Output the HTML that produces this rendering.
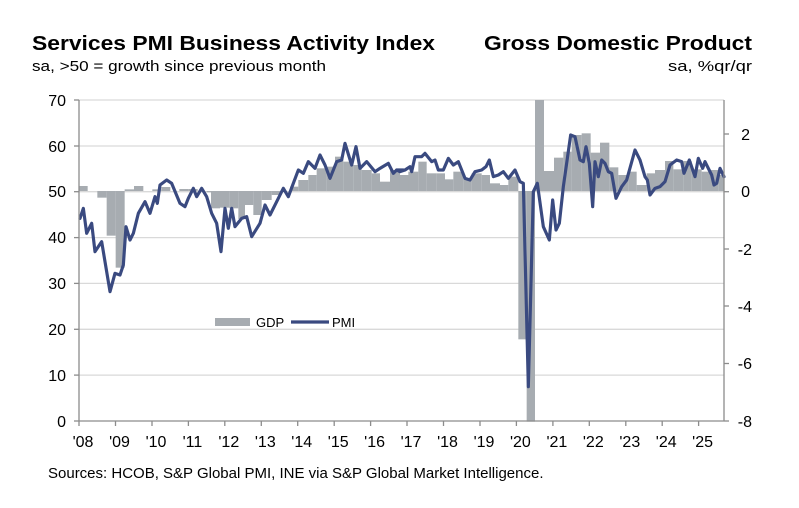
<!DOCTYPE html>
<html><head><meta charset="utf-8"><style>
html,body{margin:0;padding:0;background:#fff;}
svg{display:block;font-family:"Liberation Sans",Arial,sans-serif;}
</style></head><body>
<svg width="799" height="508" viewBox="0 0 799 508" xmlns="http://www.w3.org/2000/svg">
<rect width="799" height="508" fill="#fff"/>
<text x="32" y="50" font-size="20" font-weight="bold" textLength="403" lengthAdjust="spacingAndGlyphs">Services PMI Business Activity Index</text>
<text x="32" y="71" font-size="15" textLength="294" lengthAdjust="spacingAndGlyphs">sa, &gt;50 = growth since previous month</text>
<text x="752" y="50" font-size="20" font-weight="bold" text-anchor="end" textLength="268" lengthAdjust="spacingAndGlyphs">Gross Domestic Product</text>
<text x="752" y="71" font-size="15" text-anchor="end" textLength="84" lengthAdjust="spacingAndGlyphs">sa, %qr/qr</text>
<g stroke="#d9d9d9" stroke-width="1.3">
<line x1="79" x2="724" y1="100" y2="100"/><line x1="79" x2="724" y1="146" y2="146"/>
<line x1="79" x2="724" y1="191.7" y2="191.7"/><line x1="79" x2="724" y1="237.6" y2="237.6"/>
<line x1="79" x2="724" y1="283.4" y2="283.4"/><line x1="79" x2="724" y1="329.3" y2="329.3"/>
<line x1="79" x2="724" y1="375.1" y2="375.1"/>
</g>
<g transform="translate(60,90) scale(0.33333)" fill="#a7acb1">
<rect x="57" y="288" width="26" height="15"/>
<rect x="112" y="303" width="28" height="20"/>
<rect x="140" y="303" width="27" height="134"/>
<rect x="167" y="303" width="27" height="230"/>
<rect x="194" y="298" width="28" height="5"/>
<rect x="222" y="288" width="28" height="15"/>
<rect x="277" y="298" width="27" height="5"/>
<rect x="304" y="291" width="27" height="12"/>
<rect x="358" y="297" width="28" height="6"/>
<rect x="386" y="297" width="27" height="6"/>
<rect x="440" y="303" width="13" height="4"/>
<rect x="453" y="303" width="27" height="52"/>
<rect x="480" y="303" width="28" height="50"/>
<rect x="508" y="303" width="27" height="52"/>
<rect x="535" y="303" width="20" height="84"/>
<rect x="555" y="303" width="25" height="42"/>
<rect x="580" y="303" width="25" height="72"/>
<rect x="605" y="303" width="30" height="27"/>
<rect x="635" y="303" width="25" height="12"/>
<rect x="690" y="290" width="25" height="13"/>
<rect x="715" y="270" width="30" height="33"/>
<rect x="745" y="255" width="25" height="48"/>
<rect x="770" y="235" width="30" height="68"/>
<rect x="800" y="230" width="25" height="73"/>
<rect x="825" y="200" width="25" height="103"/>
<rect x="850" y="215" width="30" height="88"/>
<rect x="880" y="225" width="25" height="78"/>
<rect x="905" y="240" width="30" height="63"/>
<rect x="935" y="250" width="25" height="53"/>
<rect x="960" y="275" width="30" height="28"/>
<rect x="990" y="240" width="30" height="63"/>
<rect x="1020" y="255" width="30" height="48"/>
</g>
<g transform="translate(400,90) scale(0.33333)" fill="#a7acb1">
<rect x="0" y="255" width="25" height="48"/>
<rect x="25" y="245" width="30" height="58"/>
<rect x="55" y="215" width="25" height="88"/>
<rect x="80" y="250" width="30" height="53"/>
<rect x="110" y="250" width="25" height="53"/>
<rect x="135" y="268" width="25" height="35"/>
<rect x="160" y="245" width="30" height="58"/>
<rect x="190" y="265" width="25" height="38"/>
<rect x="215" y="250" width="30" height="53"/>
<rect x="245" y="255" width="25" height="48"/>
<rect x="270" y="280" width="30" height="23"/>
<rect x="300" y="285" width="25" height="18"/>
<rect x="325" y="260" width="30" height="43"/>
<rect x="355" y="303" width="25" height="445"/>
<rect x="380" y="303" width="25" height="692"/>
<rect x="405" y="30" width="27" height="273"/>
<rect x="432" y="243" width="30" height="60"/>
<rect x="462" y="203" width="28" height="100"/>
<rect x="490" y="185" width="25" height="118"/>
<rect x="515" y="135" width="30" height="168"/>
<rect x="545" y="130" width="27" height="173"/>
<rect x="572" y="188" width="28" height="115"/>
<rect x="600" y="158" width="28" height="145"/>
<rect x="628" y="232" width="27" height="71"/>
<rect x="655" y="255" width="30" height="48"/>
<rect x="685" y="245" width="25" height="58"/>
<rect x="710" y="285" width="30" height="18"/>
<rect x="740" y="250" width="25" height="53"/>
<rect x="765" y="240" width="30" height="63"/>
<rect x="795" y="213" width="25" height="90"/>
<rect x="820" y="238" width="30" height="65"/>
<rect x="850" y="213" width="25" height="90"/>
<rect x="875" y="238" width="30" height="65"/>
<rect x="905" y="245" width="25" height="58"/>
<rect x="930" y="240" width="25" height="63"/>
<rect x="955" y="255" width="18" height="48"/>
</g>
<g fill="none" stroke="#3a4a80" stroke-width="9.5" stroke-linejoin="round" stroke-linecap="round">
<polyline transform="translate(60,90) scale(0.33333)" points="60,385 70,355 80,430 95,400 105,485 125,455 150,605 165,550 180,555 190,525 198,410 210,450 220,430 235,370 255,335 270,370 285,320 292,340 300,285 320,270 335,280 360,340 375,350 385,325 400,295 410,320 425,295 440,320 455,370 470,400 483,485 495,355 505,415 515,355 525,410 545,385 560,380 575,440 600,400 615,345 630,375 650,335 670,295 685,320 700,280 715,240 730,250 745,215 765,235 780,195 795,225 810,265 830,215 845,210 855,160 875,225 888,170 900,235 920,215 945,245 960,235 985,220 1000,250 1010,240 1030,240"/>
<polyline transform="translate(400,90) scale(0.33333)" points="-10,240 0,245 15,240 30,230 35,245 45,200 65,200 75,190 95,215 105,210 115,240 130,240 145,205 160,225 175,215 195,265 210,270 225,245 245,240 258,230 268,210 280,260 295,255 310,245 325,265 345,240 360,275 370,280 385,890 400,305 412,280 430,410 448,450 458,330 468,420 478,400 490,290 512,135 525,140 540,210 550,215 558,170 568,220 578,350 585,215 595,260 605,210 615,220 625,245 635,250 648,325 665,290 680,270 705,180 720,210 735,260 742,270 750,315 765,295 780,290 795,275 810,225 830,210 845,215 852,250 868,210 885,260 895,205 908,235 915,215 935,255 942,285 950,280 960,235 972,260"/>
</g>
<g stroke="#8c8c8c" stroke-width="1.3">
<line x1="79" y1="100" x2="79" y2="421"/>
<line x1="724" y1="100" x2="724" y2="421"/>
<line x1="79" y1="421" x2="724" y2="421"/>
<line x1="74" x2="79" y1="100" y2="100"/><line x1="74" x2="79" y1="146" y2="146"/><line x1="74" x2="79" y1="191.7" y2="191.7"/><line x1="74" x2="79" y1="237.6" y2="237.6"/><line x1="74" x2="79" y1="283.4" y2="283.4"/><line x1="74" x2="79" y1="329.3" y2="329.3"/><line x1="74" x2="79" y1="375.1" y2="375.1"/><line x1="74" x2="79" y1="421" y2="421"/>
<line x1="724" x2="729" y1="134" y2="134"/><line x1="724" x2="729" y1="191.7" y2="191.7"/><line x1="724" x2="729" y1="249" y2="249"/><line x1="724" x2="729" y1="306" y2="306"/><line x1="724" x2="729" y1="363.5" y2="363.5"/><line x1="724" x2="729" y1="421" y2="421"/>
</g>
<g stroke="#8c8c8c" stroke-width="1.3">
<line x1="79" x2="79" y1="421" y2="426"/><line x1="115.5" x2="115.5" y1="421" y2="426"/><line x1="152" x2="152" y1="421" y2="426"/><line x1="188.4" x2="188.4" y1="421" y2="426"/><line x1="224.8" x2="224.8" y1="421" y2="426"/><line x1="261.3" x2="261.3" y1="421" y2="426"/><line x1="297.7" x2="297.7" y1="421" y2="426"/><line x1="334.2" x2="334.2" y1="421" y2="426"/><line x1="370.6" x2="370.6" y1="421" y2="426"/><line x1="407" x2="407" y1="421" y2="426"/><line x1="443.5" x2="443.5" y1="421" y2="426"/><line x1="480" x2="480" y1="421" y2="426"/><line x1="516.4" x2="516.4" y1="421" y2="426"/><line x1="552.9" x2="552.9" y1="421" y2="426"/><line x1="589.3" x2="589.3" y1="421" y2="426"/><line x1="625.8" x2="625.8" y1="421" y2="426"/><line x1="662.2" x2="662.2" y1="421" y2="426"/><line x1="698.6" x2="698.6" y1="421" y2="426"/>
</g>
<g font-size="16" fill="#000" text-anchor="end">
<text x="66" y="106">70</text><text x="66" y="152">60</text><text x="66" y="197">50</text><text x="66" y="243">40</text><text x="66" y="289">30</text><text x="66" y="335">20</text><text x="66" y="381">10</text><text x="66" y="427">0</text>
</g>
<g font-size="16" fill="#000" text-anchor="end">
<text x="750" y="140">2</text><text x="750" y="197">0</text><text x="752" y="255">-2</text><text x="752" y="312">-4</text><text x="752" y="369">-6</text><text x="752" y="427">-8</text>
</g>
<g font-size="16" fill="#000" text-anchor="middle">
<text x="83" y="447">'08</text><text x="119.5" y="447">'09</text><text x="156" y="447">'10</text><text x="192.4" y="447">'11</text><text x="228.8" y="447">'12</text><text x="265.3" y="447">'13</text><text x="301.7" y="447">'14</text><text x="338.2" y="447">'15</text><text x="374.6" y="447">'16</text><text x="411" y="447">'17</text><text x="447.5" y="447">'18</text><text x="484" y="447">'19</text><text x="520.4" y="447">'20</text><text x="556.9" y="447">'21</text><text x="593.3" y="447">'22</text><text x="629.8" y="447">'23</text><text x="666.2" y="447">'24</text><text x="702.6" y="447">'25</text>
</g>
<rect x="215" y="318" width="35" height="8" fill="#a7acb1"/>
<text x="256" y="327" font-size="13">GDP</text>
<line x1="291" x2="329" y1="322" y2="322" stroke="#3a4a80" stroke-width="3.2"/>
<text x="332" y="327" font-size="13">PMI</text>
<text x="48" y="478" font-size="15">Sources: HCOB, S&amp;P Global PMI, INE via S&amp;P Global Market Intelligence.</text>
</svg>
</body></html>
